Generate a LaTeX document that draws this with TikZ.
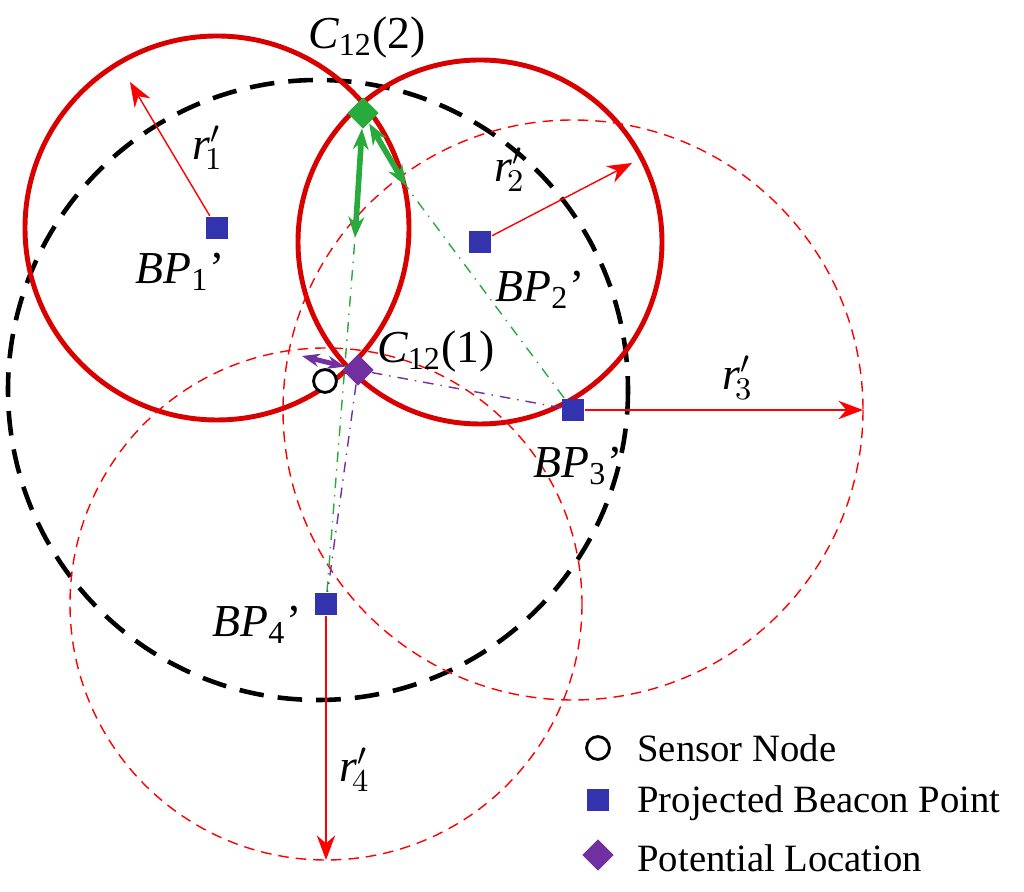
\documentclass[tikz,border=0pt]{standalone}
\usepackage{fontspec}
\setmainfont{Liberation Serif}
\usetikzlibrary{shapes.geometric,arrows.meta}
\definecolor{plum}{RGB}{112,48,160}
\definecolor{leaf}{RGB}{40,170,60}
\tikzset{
  beacon/.style={fill=blue!60!black!80, minimum size=6.5pt, inner sep=0pt},
  potential/.style={diamond, minimum size=9pt, inner sep=0pt},
  sensor/.style={circle, draw, thick, fill=white, minimum size=6.5pt, inner sep=0pt},
  bigcircle/.style={draw=red!85!black, line width=1.4pt},
  thincircle/.style={draw=red, densely dashed, thin},
  radius arrow/.style={-{Stealth[length=7pt]}, red},
  lab/.style={font=\fontsize{13}{15}\selectfont},
}
\newcommand{\bpname}[1]{\textit{BP}\textsubscript{#1}'}
\newcommand{\rname}[1]{\textit{r}$'_{\!#1}$}
\begin{document}
\begin{tikzpicture}[x=0.01cm,y=-0.01cm]
\useasboundingbox (0,0) rectangle (1024,892);

% circles
\draw[black, line width=1.3pt, dash pattern=on 7pt off 4pt] (318,390) circle [radius=310];
\draw[bigcircle] (217,228) circle [radius=192];
\draw[bigcircle] (480,242) circle [radius=182];
\draw[thincircle] (573,410) circle [radius=290];
\draw[thincircle] (326,604) circle [radius=256];

% beacon points
\node[beacon] (bp1) at (217,228) {};
\node[beacon] (bp2) at (480,242) {};
\node[beacon] (bp3) at (573,410) {};
\node[beacon] (bp4) at (326,604) {};
\node[lab] at (180,272) {\bpname{1}};
\node[lab] at (540,290) {\bpname{2}};
\node[lab] at (578,466) {\bpname{3}};
\node[lab] at (257,625) {\bpname{4}};

% radii
\coordinate (e1) at (130,82);
\coordinate (e2) at (632,163);
\coordinate (e3) at (863,410);
\coordinate (e4) at (326,860);
\draw[radius arrow] (bp1) -- (e1);
\draw[radius arrow] (bp2) -- (e2);
\draw[radius arrow] (bp3) -- (e3);
\draw[radius arrow] (bp4) -- (e4);
\node[lab] at (208,148) {\rname{1}};
\node[lab] at (510,170) {\rname{2}};
\node[lab] at (738,378) {\rname{3}};
\node[lab] at (355,770) {\rname{4}};

% projections
\coordinate (g1) at (355,238);
\coordinate (g2) at (406,186);
\draw[leaf, dash dot] (bp4) -- (g1);
\draw[leaf, dash dot] (bp3) -- (g2);
\node[sensor] (sn) at (325,381) {};
\node[potential, fill=leaf] (c2) at (363,113) {};
\node[potential, fill=plum] (c1) at (358,370) {};
\draw[plum, dash dot] (c1) -- (bp3);
\draw[plum, dash dot] (c1) -- (bp4);
\draw[{Stealth[length=6pt]}-{Stealth[length=6pt]}, leaf, line width=1.6pt] (c2) -- (g1);
\draw[{Stealth[length=6pt]}-{Stealth[length=6pt]}, leaf, line width=1.6pt] (c2) -- (g2);
\coordinate (p1) at (302,356);
\draw[{Stealth[length=5pt]}-{Stealth[length=5pt]}, plum, line width=1.4pt] (c1) -- (p1);
\node[lab] at (367,38) {\textit{C}\textsubscript{12}(2)};
\node[lab] at (436,352) {\textit{C}\textsubscript{12}(1)};

% legend
\node[sensor] (ls) at (598,748) {};
\node[beacon] (lb) at (598,800) {};
\node[potential, fill=plum] (lp) at (598,855) {};
\node[anchor=west, font=\fontsize{11}{13}\selectfont] at (625,748) {Sensor Node};
\node[anchor=west, font=\fontsize{11}{13}\selectfont] at (625,803) {Projected Beacon Point};
\node[anchor=west, font=\fontsize{11}{13}\selectfont] at (625,858) {Potential Location};
\end{tikzpicture}
\end{document}
